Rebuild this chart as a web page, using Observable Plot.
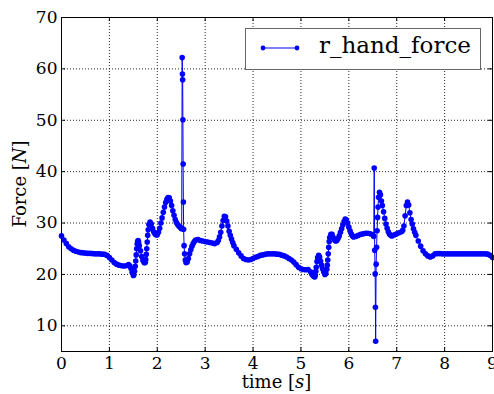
<!DOCTYPE html>
<html>
<head>
<meta charset="utf-8">
<script src="https://cdn.jsdelivr.net/npm/d3@7"></script>
<script src="https://cdn.jsdelivr.net/npm/@observablehq/plot@0.6"></script>
<style>
  html, body { margin: 0; padding: 0; background: #fff; overflow: hidden; }
  #wrap { position: relative; width: 494px; height: 394px; }
  #legend {
    position: absolute; left: 245px; top: 28px; width: 234px; height: 40px;
    border: 1.5px solid #666; background: #fff; box-sizing: content-box;
    font-family: "DejaVu Serif", serif; font-size: 23px; color: #000;
  }
  #legend svg { position: absolute; left: 14px; top: 13px; }
  #legend span { position: absolute; left: 73px; top: 3px; white-space: nowrap; }
</style>
</head>
<body>
<div id="wrap"><div id="legend"></div></div>
<script>
// Right-hand force samples: time in seconds, force in newtons
const time = [
  0, 0.05, 0.1, 0.15, 0.2, 0.25, 0.3, 0.35, 0.4, 0.45, 0.5, 0.55, 0.6, 0.65, 0.7, 0.75, 0.8, 0.85, 0.9, 0.95,
  1.0, 1.05, 1.1, 1.15, 1.2, 1.25, 1.3, 1.35, 1.4, 1.425, 1.45, 1.475, 1.5, 1.51, 1.525, 1.54, 1.55, 1.56, 1.57, 1.58,
  1.59, 1.6, 1.61, 1.625, 1.65, 1.675, 1.7, 1.725, 1.75, 1.76, 1.77, 1.78, 1.79, 1.8, 1.81, 1.825, 1.85, 1.875, 1.9, 1.925,
  1.95, 1.975, 2.0, 2.025, 2.05, 2.075, 2.1, 2.125, 2.15, 2.175, 2.2, 2.225, 2.25, 2.275, 2.3, 2.325, 2.35, 2.375, 2.4, 2.425,
  2.45, 2.475, 2.5, 2.51, 2.52, 2.525, 2.53, 2.535, 2.54, 2.545, 2.55, 2.56, 2.57, 2.585, 2.6, 2.625, 2.65, 2.675, 2.7, 2.725,
  2.75, 2.775, 2.8, 2.85, 2.9, 2.95, 3.0, 3.05, 3.1, 3.15, 3.2, 3.25, 3.275, 3.3, 3.325, 3.35, 3.375, 3.4, 3.425, 3.45,
  3.475, 3.5, 3.525, 3.55, 3.575, 3.6, 3.65, 3.7, 3.75, 3.8, 3.85, 3.9, 3.95, 4.0, 4.05, 4.1, 4.15, 4.2, 4.25, 4.3,
  4.35, 4.4, 4.45, 4.5, 4.55, 4.6, 4.65, 4.7, 4.75, 4.8, 4.85, 4.9, 4.95, 5.0, 5.05, 5.1, 5.15, 5.2, 5.225, 5.25,
  5.275, 5.29, 5.3, 5.31, 5.32, 5.335, 5.35, 5.37, 5.39, 5.41, 5.43, 5.45, 5.475, 5.5, 5.52, 5.54, 5.55, 5.56, 5.57, 5.58,
  5.59, 5.6, 5.625, 5.65, 5.675, 5.7, 5.725, 5.75, 5.775, 5.8, 5.825, 5.85, 5.875, 5.9, 5.925, 5.95, 5.975, 6.0, 6.025, 6.05,
  6.075, 6.1, 6.15, 6.2, 6.25, 6.3, 6.35, 6.4, 6.45, 6.5, 6.52, 6.53, 6.54, 6.55, 6.555, 6.56, 6.57, 6.58, 6.59, 6.6,
  6.61, 6.62, 6.64, 6.66, 6.68, 6.7, 6.725, 6.75, 6.775, 6.8, 6.825, 6.85, 6.875, 6.9, 6.95, 7.0, 7.05, 7.1, 7.125, 7.15,
  7.175, 7.2, 7.225, 7.25, 7.275, 7.3, 7.325, 7.35, 7.375, 7.4, 7.45, 7.5, 7.55, 7.6, 7.65, 7.7, 7.75, 7.8, 7.85, 7.9,
  7.95, 8.0, 8.05, 8.1, 8.15, 8.2, 8.25, 8.3, 8.35, 8.4, 8.45, 8.5, 8.55, 8.6, 8.65, 8.7, 8.75, 8.8, 8.85, 8.9,
  8.95, 9.0
];
const force = [
  27.5, 26.7, 26.0, 25.4, 25.0, 24.7, 24.5, 24.35, 24.25, 24.2, 24.15, 24.1, 24.1, 24.05, 24.0, 24.0, 24.0, 23.95, 23.9, 23.7,
  23.3, 22.8, 22.3, 22.0, 21.8, 21.7, 21.65, 21.7, 21.9, 21.7, 21.2, 20.4, 19.8, 19.9, 20.6, 21.6, 22.6, 23.8, 25.0, 25.9,
  26.4, 26.6, 26.3, 25.6, 24.6, 23.5, 22.7, 22.3, 22.3, 22.9, 23.9, 25.0, 26.3, 27.6, 28.7, 29.7, 30.2, 29.8, 29.0, 28.3,
  27.9, 27.7, 27.7, 28.2, 29.0, 30.0, 31.0, 32.1, 33.1, 34.0, 34.6, 34.95, 34.9, 34.3, 33.4, 32.4, 31.5, 30.7, 30.1, 29.7,
  29.4, 29.2, 29.0, 28.9, 62.2, 59.0, 57.9, 50.1, 41.5, 34.1, 28.8, 25.6, 24.0, 22.8, 22.3, 22.4, 23.1, 24.0, 24.8, 25.5,
  26.0, 26.4, 26.7, 26.8, 26.6, 26.5, 26.4, 26.3, 26.2, 26.1, 26.0, 26.2, 26.6, 27.3, 28.2, 29.4, 30.5, 31.3, 31.2, 30.4,
  29.4, 28.4, 27.6, 26.9, 26.2, 25.6, 24.9, 24.2, 23.6, 23.1, 22.9, 22.8, 22.9, 23.1, 23.35, 23.5, 23.7, 23.8, 23.9, 24.0,
  24.0, 24.0, 24.0, 23.95, 23.9, 23.75, 23.6, 23.4, 23.1, 22.8, 22.4, 21.9, 21.4, 21.1, 20.95, 20.9, 20.95, 20.5, 20.1, 19.8,
  19.6, 19.5, 19.9, 20.6, 21.4, 22.5, 23.3, 23.7, 23.4, 22.6, 21.8, 21.1, 20.5, 20.0, 20.2, 21.0, 21.8, 22.8, 24.0, 25.3,
  26.4, 27.2, 27.8, 27.8, 27.2, 26.7, 26.5, 26.6, 27.0, 27.5, 28.2, 28.9, 29.6, 30.3, 30.8, 30.6, 30.0, 29.2, 28.5, 27.9,
  27.5, 27.3, 27.4, 27.6, 27.8, 27.9, 28.0, 28.0, 27.9, 27.7, 27.4, 40.7, 24.7, 20.1, 13.6, 7.0, 22.0, 25.3, 28.5, 31.1,
  33.1, 35.0, 36.0, 35.5, 34.3, 33.4, 32.2, 30.9, 29.8, 29.0, 28.3, 27.8, 27.6, 27.5, 27.7, 27.9, 28.1, 28.3, 28.6, 29.4,
  31.4, 33.4, 34.1, 33.5, 32.0, 30.7, 29.8, 28.9, 28.2, 27.6, 26.5, 25.5, 24.6, 24.0, 23.6, 23.4, 23.6, 24.0, 24.05, 24.05,
  24.0, 24.0, 24.0, 24.0, 24.0, 24.0, 24.0, 24.0, 24.0, 24.0, 24.0, 24.0, 24.0, 24.0, 24.0, 24.0, 24.0, 24.0, 24.0, 23.95,
  23.7, 23.3
];
const xTicks = [0, 1, 2, 3, 4, 5, 6, 7, 8, 9];
const yTicks = [10, 20, 30, 40, 50, 60, 70];
const seriesName = "r_hand_force";

const rows = time.map((t, i) => ({time: t, force: force[i]}));

const W = 494, H = 394;
const mL = 61, mR = 2, mT = 17, mB = 43;
const frameW = W - mL - mR, frameH = H - mT - mB;
const tickLen = 4;
const blue = "#0000ff";
const dotR = 2.8;
const grid = {stroke: "#000", strokeOpacity: 0.85, strokeDasharray: "1,2", strokeWidth: 1};

const chart = Plot.plot({
  width: W, height: H,
  marginLeft: mL, marginRight: mR, marginTop: mT, marginBottom: mB,
  style: {fontFamily: "DejaVu Serif, serif", fontSize: "17px", color: "#000", background: "#fff"},
  x: {domain: [0, 9]},
  y: {domain: [5, 70]},
  marks: [
    Plot.gridX(xTicks, grid),
    Plot.gridY(yTicks, grid),
    // inward tick marks on all four sides
    Plot.tickX(xTicks, {x: d => d, insetTop: frameH - tickLen, stroke: "#000"}),
    Plot.tickX(xTicks, {x: d => d, insetBottom: frameH - tickLen, stroke: "#000"}),
    Plot.tickY(yTicks, {y: d => d, insetRight: frameW - tickLen, stroke: "#000"}),
    Plot.tickY(yTicks, {y: d => d, insetLeft: frameW - tickLen, stroke: "#000"}),
    Plot.line(rows, {x: "time", y: "force", stroke: blue, strokeWidth: 1}),
    Plot.dot(rows, {x: "time", y: "force", r: dotR, fill: blue, stroke: "none"}),
    Plot.axisX(xTicks, {tickSize: 0, tickPadding: 5, label: null, fontSize: 17}),
    Plot.axisY(yTicks, {tickSize: 0, tickPadding: 4, label: null, fontSize: 17}),
    Plot.frame({stroke: "#000", strokeWidth: 1})
  ]
});

document.getElementById("wrap").prepend(chart);

// axis titles with italic unit symbols
const svg = d3.select(chart);
const xl = svg.append("text")
  .attr("x", mL + frameW / 2).attr("y", H - 6)
  .attr("text-anchor", "middle")
  .attr("font-family", "DejaVu Serif, serif").attr("font-size", 18).attr("fill", "#000");
xl.append("tspan").text("time [");
xl.append("tspan").attr("font-style", "italic").text("s");
xl.append("tspan").text("]");

const yl = svg.append("text")
  .attr("transform", `translate(26,${mT + frameH / 2}) rotate(-90)`)
  .attr("text-anchor", "middle")
  .attr("font-family", "DejaVu Serif, serif").attr("font-size", 18).attr("fill", "#000");
yl.append("tspan").text("Force [");
yl.append("tspan").attr("font-style", "italic").text("N");
yl.append("tspan").text("]");

// legend entry: line with dot markers and the series name
const legend = d3.select("#legend");
const ls = legend.append("svg").attr("width", 42).attr("height", 12);
ls.append("line").attr("x1", 3).attr("x2", 37).attr("y1", 6).attr("y2", 6)
  .attr("stroke", blue).attr("stroke-width", 1);
ls.selectAll("circle").data([3, 37]).join("circle")
  .attr("cx", d => d).attr("cy", 6).attr("r", 2.4).attr("fill", blue);
legend.append("span").text(seriesName);
</script>
</body>
</html>
